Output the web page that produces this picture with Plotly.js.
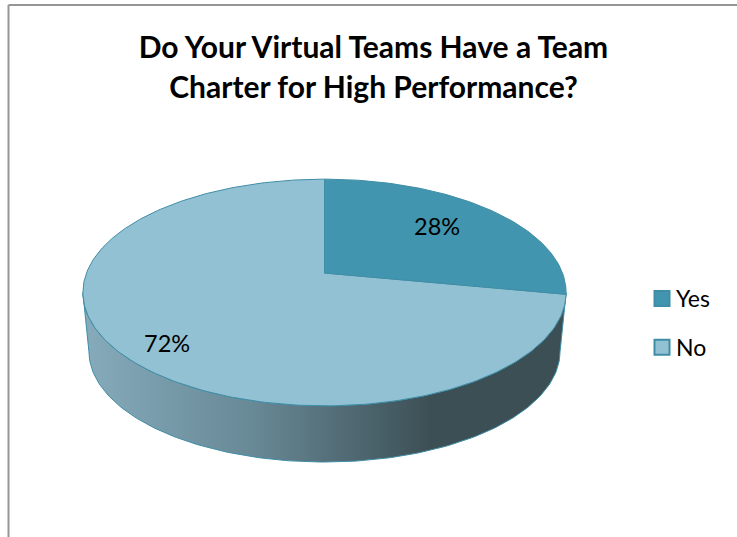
<!DOCTYPE html>
<html><head><meta charset="utf-8">
<script src="https://cdn.plot.ly/plotly-3.0.1.min.js"></script>
<style>html,body{margin:0;padding:0;background:#fff}#chart{width:737px;height:537px}
.legendtext{transform:translateX(-6px)}</style>
</head><body><div id="chart"></div>
<script>
// Data
const categories = ['Yes', 'No'];
const values = [28, 72];
const sliceColors = ['#4195AE', '#92C1D3'];
const titleLines = ['Do Your Virtual Teams Have a Team', 'Charter for High Performance?'];

// Perspective disc view (axes run in chart pixels)
const view = {cx: 324.5, cy: 273, rx: 238, ry: 110, persp: 0.172, depth: 59.5, shrink: 0.975};
const edge = '#3F8DA6';

function rim(deg, scale, drop) {
  const t = deg * Math.PI / 180, w = 1 + view.persp * Math.cos(t);
  return [view.cx + scale * view.rx * Math.sin(t) / w,
          view.cy + drop - scale * view.ry * Math.cos(t) / w];
}
function arc(from, to, scale, drop) {
  const n = Math.max(2, Math.round(Math.abs(to - from))), pts = [];
  for (let i = 0; i <= n; i++) pts.push(rim(from + (to - from) * i / n, scale, drop));
  return pts;
}
const total = values.reduce((a, b) => a + b, 0);
let acc = 0;
const slices = values.map((v, i) => {
  const a0 = acc / total * 360; acc += v; const a1 = acc / total * 360;
  const pts = [[view.cx, view.cy]].concat(arc(a0, a1, 1, 0)); pts.push([view.cx, view.cy]);
  return {type: 'scatter', mode: 'lines', x: pts.map(p => p[0]), y: pts.map(p => p[1]),
    fill: 'toself', fillcolor: sliceColors[i], line: {color: edge, width: 1},
    name: categories[i], showlegend: false, hoverinfo: 'name'};
});
const upper = arc(100, 260, 1, 0), lower = arc(260, 100, view.shrink, view.depth);
const wallPts = upper.concat(lower); wallPts.push(upper[0]);
const wall = {type: 'scatter', mode: 'lines', x: wallPts.map(p => p[0]), y: wallPts.map(p => p[1]),
  fill: 'toself', line: {color: edge, width: 1}, showlegend: false, hoverinfo: 'skip',
  fillgradient: {type: 'horizontal', start: 83, stop: 566,
    colorscale: [[0, '#86ABBB'], [0.35, '#688996'], [0.72, '#3C4F55'], [1, '#3C4F55']]}};
const legendMarks = categories.map((c, i) => ({type: 'scatter', mode: 'markers', x: [null], y: [null],
  name: c, legendgroup: c, marker: {symbol: 'square', size: 15, color: sliceColors[i], line: {color: edge, width: 2}}}));

const labelPos = [[437, 226], [167, 343]];
const layout = {
  width: 737, height: 537, margin: {l: 0, r: 0, t: 0, b: 0},
  paper_bgcolor: '#fff', plot_bgcolor: '#fff',
  font: {family: 'Lato, sans-serif', color: '#000'},
  title: {text: titleLines.map(l => '<span style="font-size:30px">' + l + '</span>').join('<br>'),
    font: {family: 'Lato, sans-serif', size: 31, weight: 700, color: '#000'},
    x: 373.5 / 737, xanchor: 'center', xref: 'paper', y: 1 - 58 / 537, yanchor: 'top'},
  xaxis: {range: [0, 737], visible: false, fixedrange: true},
  yaxis: {range: [537, 0], visible: false, fixedrange: true},
  legend: {x: 642 / 737, xanchor: 'left', y: 1 - 323 / 537, yanchor: 'middle', font: {size: 23},
    tracegroupgap: 16, bgcolor: 'rgba(0,0,0,0)'},
  shapes: [
    {type: 'line', xref: 'x', yref: 'y', x0: 8.5, x1: 737, y0: 5, y1: 5, line: {color: '#969696', width: 2}},
    {type: 'line', xref: 'x', yref: 'y', x0: 8.5, x1: 8.5, y0: 5, y1: 537, line: {color: '#969696', width: 2}}
  ],
  annotations: values.map((v, i) => ({xref: 'x', yref: 'y', x: labelPos[i][0], y: labelPos[i][1],
    text: v + '%', showarrow: false, font: {size: 23.5, color: '#000'}}))
};
Plotly.newPlot('chart', [wall].concat(slices.slice().reverse(), legendMarks), layout, {displayModeBar: false, staticPlot: true});
</script></body></html>
